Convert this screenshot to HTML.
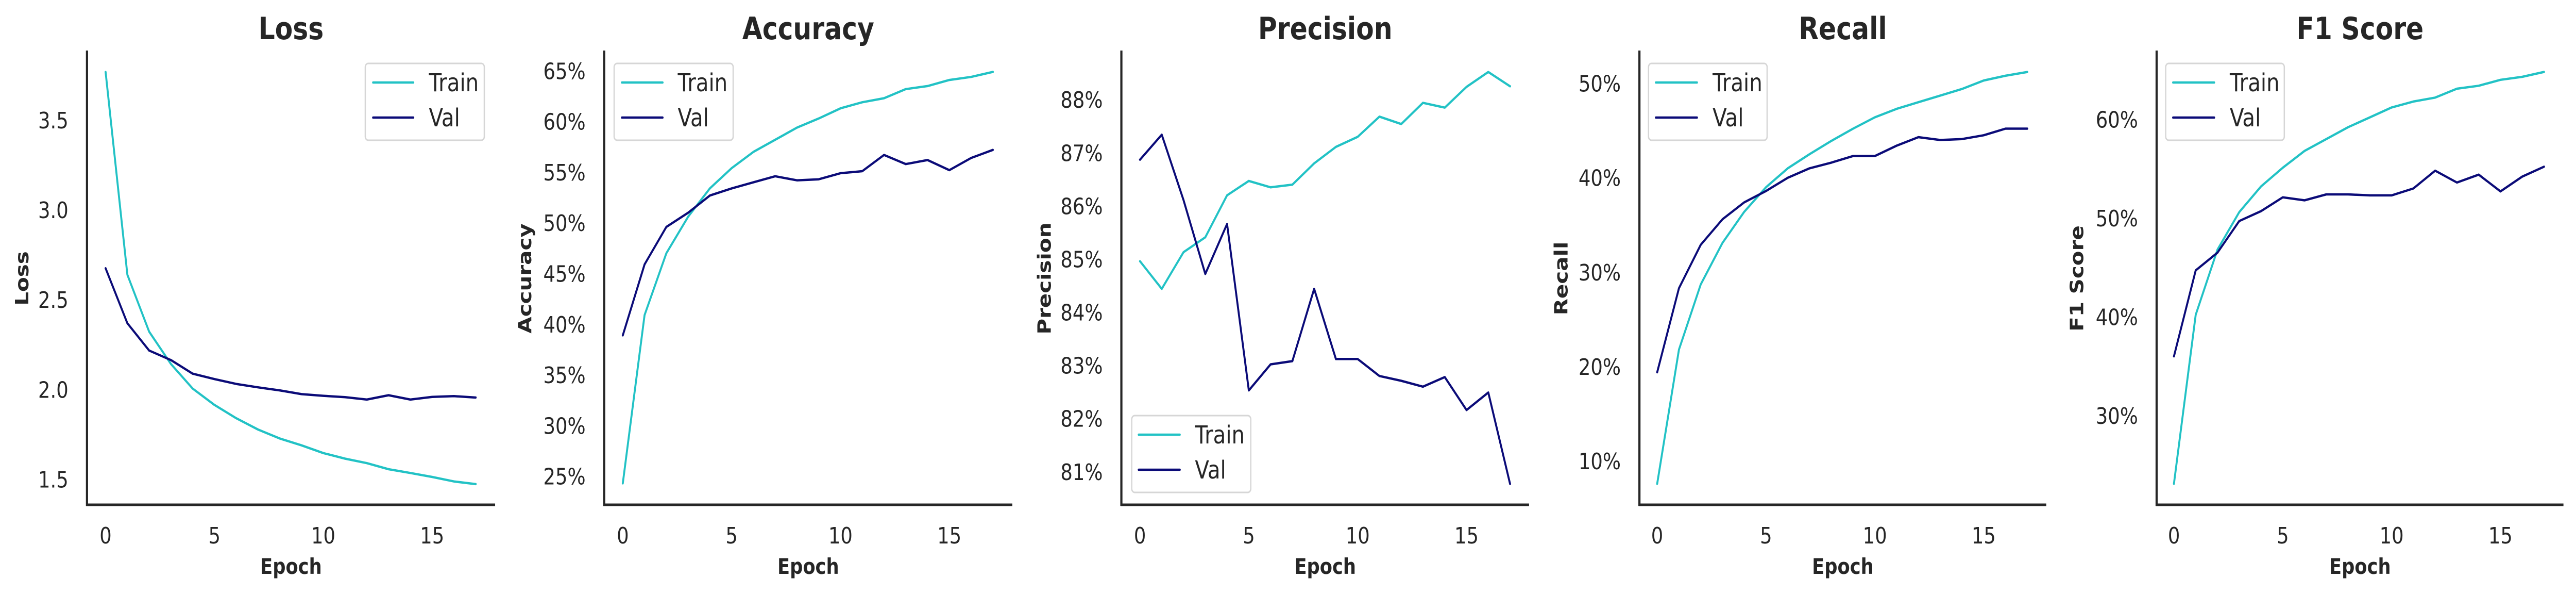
<!DOCTYPE html>
<html><head><meta charset="utf-8"><style>
html,body{margin:0;padding:0;background:#fff;width:100%;height:100%;overflow:hidden;}
svg{display:block;font-family:"DejaVu Sans","Liberation Sans",sans-serif;width:100vw;height:100vh;}
</style></head>
<body>
<svg id="fig" viewBox="0 0 5952 1152" preserveAspectRatio="none" xmlns="http://www.w3.org/2000/svg">
<rect width="5952" height="1152" fill="#fff"/>
</svg>
<script>
// ---- data ----
const epochs = [0,1,2,3,4,5,6,7,8,9,10,11,12,13,14,15,16,17];
const lossTrain = [3.768,2.639,2.322,2.142,2.005,1.914,1.840,1.777,1.727,1.689,1.646,1.615,1.590,1.556,1.535,1.513,1.488,1.473];
const lossVal = [2.675,2.369,2.217,2.164,2.088,2.058,2.031,2.012,1.995,1.974,1.965,1.957,1.944,1.968,1.944,1.959,1.963,1.955];
const accTrain = [24.3,40.9,47.0,50.6,53.4,55.4,57.0,58.2,59.4,60.3,61.3,61.9,62.3,63.2,63.5,64.1,64.4,64.9];
const accVal = [38.9,45.9,49.6,51.0,52.7,53.4,54.0,54.6,54.2,54.3,54.9,55.1,56.7,55.8,56.2,55.2,56.4,57.2];
const precTrain = [84.96,84.44,85.13,85.41,86.20,86.47,86.35,86.40,86.80,87.11,87.30,87.68,87.54,87.94,87.85,88.24,88.52,88.25];
const precVal = [86.87,87.34,86.11,84.72,85.66,82.53,83.02,83.08,84.44,83.12,83.12,82.80,82.71,82.60,82.78,82.16,82.49,80.77];
const recTrain = [7.6,21.8,28.7,33.1,36.4,39.0,41.0,42.5,43.9,45.2,46.4,47.3,48.0,48.7,49.4,50.3,50.8,51.2];
const recVal = [19.4,28.3,32.9,35.6,37.4,38.6,40.0,41.0,41.6,42.3,42.3,43.4,44.3,44.0,44.1,44.5,45.2,45.2];
const f1Train = [23.1,40.2,46.8,50.6,53.2,55.1,56.8,58.0,59.2,60.2,61.2,61.8,62.2,63.1,63.4,64.0,64.3,64.8];
const f1Val = [36.0,44.7,46.5,49.7,50.7,52.1,51.8,52.4,52.4,52.3,52.3,53.0,54.8,53.6,54.4,52.7,54.2,55.2];
const xTicks = [0,5,10,15];
const lossTicks = [1.5,2.0,2.5,3.0,3.5];
const accTicks = [25,30,35,40,45,50,55,60,65];
const precTicks = [81,82,83,84,85,86,87,88];
const recTicks = [10,20,30,40,50];
const f1Ticks = [30,40,50,60];

const NS = "http://www.w3.org/2000/svg";
const svg = document.getElementById('fig');
function mk(tag, attrs, parent){const e=document.createElementNS(NS,tag);for(const k in attrs)e.setAttribute(k,attrs[k]);(parent||svg).appendChild(e);return e;}
const TEXT="#262626", TRAIN="#22c2c5", VAL="#0b0b78";
const TOP=98, BOT=979;

const panels = [
 {key:'loss',title:'Loss',ylabel:'Loss',train:lossTrain,val:lossVal,ticks:lossTicks,fmt:v=>v.toFixed(1),
  left:201,right:1144,x0:244,xs:50.3,v1:3.5,p1:233,v2:1.5,p2:929.5,ylx:52,
  leg:{x:844,w:275,y:123,line:[862,955],tx:991}},
 {key:'accuracy',title:'Accuracy',ylabel:'Accuracy',train:accTrain,val:accVal,ticks:accTicks,fmt:v=>v+'%',
  left:1396,right:2339,x0:1439,xs:50.3,v1:65,p1:137.4,v2:25,p2:923.6,ylx:1214,
  leg:{x:1419,w:275,y:123,line:[1437,1531],tx:1566}},
 {key:'precision',title:'Precision',ylabel:'Precision',train:precTrain,val:precVal,ticks:precTicks,fmt:v=>v+'%',
  left:2591,right:3533,x0:2634,xs:50.3,v1:88,p1:193.2,v2:81,p2:914.8,ylx:2414,
  leg:{x:2615,w:275,y:806,line:[2631,2726],tx:2761}},
 {key:'recall',title:'Recall',ylabel:'Recall',train:recTrain,val:recVal,ticks:recTicks,fmt:v=>v+'%',
  left:3788,right:4728,x0:3829,xs:50.3,v1:50,p1:161.6,v2:10,p2:894.2,ylx:3608,
  leg:{x:3809,w:274,y:123,line:[3826,3921],tx:3957}},
 {key:'f1',title:'F1 Score',ylabel:'F1 Score',train:f1Train,val:f1Val,ticks:f1Ticks,fmt:v=>v+'%',
  left:4983,right:5923,x0:5023,xs:50.3,v1:60,p1:231.4,v2:30,p2:806,ylx:4800,
  leg:{x:5004,w:274,y:123,line:[5021,5116],tx:5152}}
];

panels.forEach(p=>{
  const g = mk('g',{});
  
  
  const xS = e => p.x0 + e*p.xs;
  const yS = v => p.p1 + (v - p.v1)*(p.p2 - p.p1)/(p.v2 - p.v1);
  const cx = (p.left+p.right)/2;
  const t = mk('text',{x:cx,y:76,'text-anchor':'middle','font-size':60,'font-weight':'bold',fill:TEXT},g);
  t.textContent = p.title;
  
  
  const ys = mk('line',{x1:p.left,y1:TOP,x2:p.left,y2:BOT+2,stroke:TEXT,'stroke-width':5},g);
  
  
  const xsl = mk('line',{x1:p.left-2,y1:BOT,x2:p.right,y2:BOT,stroke:TEXT,'stroke-width':5},g);
  
  
  p.ticks.forEach(v=>{
    const tl = mk('text',{x:p.left-43,y:yS(v)+16,'text-anchor':'end','font-size':44,fill:TEXT},g);
    tl.textContent = p.fmt(v);
    
    
  });
  xTicks.forEach(v=>{
    const tl = mk('text',{x:xS(v),y:1054,'text-anchor':'middle','font-size':44,fill:TEXT},g);
    tl.textContent = v;
    
    
  });
  const xl = mk('text',{x:cx,y:1113,'text-anchor':'middle','font-size':42,'font-weight':'bold',fill:TEXT},g);
  xl.textContent = 'Epoch';
  
  
  const yl = mk('text',{x:p.ylx,y:540,'text-anchor':'middle','font-size':42,'font-weight':'bold',fill:TEXT,transform:`rotate(-90 ${p.ylx} 540)`,'dominant-baseline':'central'},g);
  yl.textContent = p.ylabel;
  
  
  [['train',p.train,TRAIN],['val',p.val,VAL]].forEach(([nm,arr,col])=>{
    const pts = arr.map((v,i)=>xS(epochs[i]).toFixed(1)+','+yS(v).toFixed(1)).join(' ');
    const pl = mk('polyline',{points:pts,fill:'none',stroke:col,'stroke-width':4.5,'stroke-linejoin':'round','stroke-linecap':'round'},g);
    
    
  });
  const L = p.leg;
  const lg = mk('g',{},g);
  
  
  mk('rect',{x:L.x,y:L.y,width:L.w,height:149,rx:7,fill:'#fff','fill-opacity':0.8,stroke:'#d6d6d6','stroke-width':3},lg);
  [['Train',TRAIN,37],['Val',VAL,105]].forEach(([lab,col,dy])=>{
    const en = mk('g',{},lg);
    
    
    mk('line',{x1:L.line[0],y1:L.y+dy,x2:L.line[1],y2:L.y+dy,stroke:col,'stroke-width':4.5,'stroke-linecap':'round'},en);
    const tx = mk('text',{x:L.tx,y:L.y+dy+17,'font-size':48,fill:TEXT},en);
    tx.textContent = lab;
  });
});
</script>
</body></html>
